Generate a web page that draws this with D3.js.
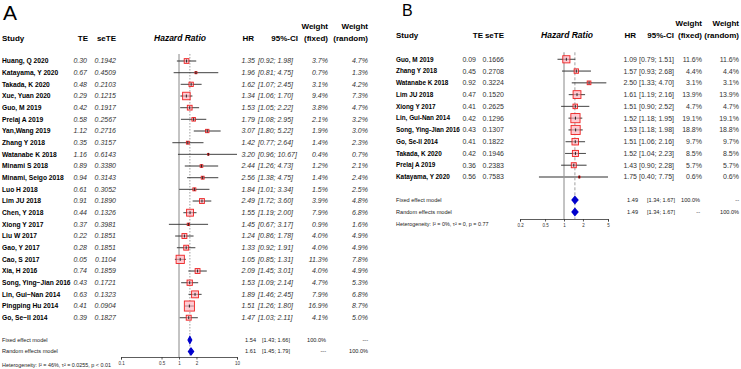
<!DOCTYPE html>
<meta charset="utf-8">
<style>
  body { margin: 0; background: #fff; }
  svg { font-family: "Liberation Sans", Arial, sans-serif; display: block; }
  .name { font-weight: bold; fill: #000; }
  .head { font-weight: bold; fill: #000; font-size: 8px; }
  .pool { fill: #222; font-size: 5.6px; }
</style>
<body></body>
<script src="https://cdn.jsdelivr.net/npm/d3@7"></script>
<script>
  // ---- panel A data
  const studiesA = ["Huang, Q 2020", "Katayama, Y 2020", "Takada, K 2020", "Xue, Yuan 2020", "Guo, M 2019",
    "Prelaj A 2019", "Yan,Wang 2019", "Zhang Y 2018", "Watanabe K 2018", "Minami S 2018", "Minami, Seigo 2018",
    "Luo H 2018", "Lim JU 2018", "Chen, Y 2018", "Xiong Y 2017", "Liu W 2017", "Gao, Y 2017", "Cao, S 2017",
    "Xia, H 2016", "Song, Ying\u2212Jian 2016", "Lin, Gui\u2212Nan 2014", "Pingping Hu 2014", "Go, Se\u2212Il 2014"];
  const teA = [0.30, 0.67, 0.48, 0.29, 0.42, 0.58, 1.12, 0.35, 1.16, 0.89, 0.94, 0.61, 0.91, 0.44, 0.37, 0.22, 0.28, 0.05, 0.74, 0.43, 0.63, 0.41, 0.39];
  const seA = [0.1942, 0.4509, 0.2103, 0.1215, 0.1917, 0.2567, 0.2716, 0.3157, 0.6143, 0.3380, 0.3143, 0.3052, 0.1890, 0.1326, 0.3981, 0.1851, 0.1851, 0.1104, 0.1859, 0.1721, 0.1323, 0.0904, 0.1827];
  const hrA = [1.35, 1.96, 1.62, 1.34, 1.53, 1.79, 3.07, 1.42, 3.20, 2.44, 2.56, 1.84, 2.49, 1.55, 1.45, 1.24, 1.33, 1.05, 2.09, 1.53, 1.89, 1.51, 1.47];
  const loA = [0.92, 0.81, 1.07, 1.06, 1.05, 1.08, 1.80, 0.77, 0.96, 1.26, 1.38, 1.01, 1.72, 1.19, 0.67, 0.86, 0.92, 0.85, 1.45, 1.09, 1.46, 1.26, 1.03];
  const hiA = [1.98, 4.75, 2.45, 1.70, 2.22, 2.95, 5.22, 2.64, 10.67, 4.73, 4.75, 3.34, 3.60, 2.00, 3.17, 1.78, 1.91, 1.31, 3.01, 2.14, 2.45, 1.80, 2.11];
  const wFixedA = [3.7, 0.7, 3.1, 9.4, 3.8, 2.1, 1.9, 1.4, 0.4, 1.2, 1.4, 1.5, 3.9, 7.9, 0.9, 4.0, 4.0, 11.3, 4.0, 4.7, 7.9, 16.9, 4.1];
  const wRandomA = [4.7, 1.3, 4.2, 7.3, 4.7, 3.2, 3.0, 2.3, 0.7, 2.1, 2.4, 2.5, 4.8, 6.8, 1.6, 4.9, 4.9, 7.8, 4.9, 5.3, 6.8, 8.7, 5.0];
  const fixedA = [1.54, 1.43, 1.66];
  const randomA = [1.61, 1.45, 1.79];
  const ticksA = [0.1, 0.5, 1, 2, 10];
  const hetA = "Heterogeneity: I\u00b2 = 46%, \u03c4\u00b2 = 0.0255, p < 0.01";

  // ---- panel B data
  const studiesB = ["Guo, M 2019", "Zhang Y 2018", "Watanabe K 2018", "Lim JU 2018", "Xiong Y 2017",
    "Lin, Gui-Nan 2014", "Song, Ying-Jian 2016", "Go, Se-Il 2014", "Takada, K 2020", "Prelaj A 2019", "Katayama, Y 2020"];
  const teB = [0.09, 0.45, 0.92, 0.47, 0.41, 0.42, 0.43, 0.41, 0.42, 0.36, 0.56];
  const seB = [0.1666, 0.2708, 0.3224, 0.1520, 0.2625, 0.1296, 0.1307, 0.1822, 0.1946, 0.2383, 0.7583];
  const hrB = [1.09, 1.57, 2.50, 1.61, 1.51, 1.52, 1.53, 1.51, 1.52, 1.43, 1.75];
  const loB = [0.79, 0.93, 1.33, 1.19, 0.90, 1.18, 1.18, 1.06, 1.04, 0.90, 0.40];
  const hiB = [1.51, 2.68, 4.70, 2.16, 2.52, 1.95, 1.98, 2.16, 2.23, 2.28, 7.75];
  const wFixedB = [11.6, 4.4, 3.1, 13.9, 4.7, 19.1, 18.8, 9.7, 8.5, 5.7, 0.6];
  const wRandomB = [11.6, 4.4, 3.1, 13.9, 4.7, 19.1, 18.8, 9.7, 8.5, 5.7, 0.6];
  const fixedB = [1.49, 1.34, 1.67];
  const randomB = [1.49, 1.34, 1.67];
  const ticksB = [0.2, 0.5, 1, 2, 5];
  const hetB = "Heterogeneity: I\u00b2 = 0%, \u03c4\u00b2 = 0, p = 0.77";

  const W = 741, H = 369;
  const svg = d3.select('body').append('svg').attr('width', W).attr('height', H);
  svg.append('rect').attr('width', W).attr('height', H).attr('fill', '#fff');

  const f2 = d3.format('.2f'), f4 = d3.format('.4f'), f1 = d3.format('.1f');

  function txt(g, x, y, s, anchor, cls, size, italic) {
    return g.append('text')
      .attr('x', x).attr('y', y).attr('dy', '0.35em')
      .attr('text-anchor', anchor || 'start')
      .attr('class', cls || null)
      .style('font-size', size ? size + 'px' : null)
      .style('font-style', italic ? 'italic' : null)
      .text(s);
  }

  function forest(p) {
    const g = svg.append('g');
    const n = p.studies.length;
    const x = d3.scaleLog().domain(p.domain).range(p.xr);
    const y = d3.scaleLinear().domain([0, n - 1]).range(p.yr);
    const c = p.col;

    // panel letter + headers
    txt(g, p.letter[1], p.letter[2], p.letter[0], 'start', null, p.letter[3]);
    txt(g, c.study, p.headY, 'Study', 'start', 'head');
    txt(g, c.teH, p.headY, 'TE', 'end', 'head');
    txt(g, c.se, p.headY, 'seTE', 'end', 'head');
    txt(g, c.hrTitle, p.headY, 'Hazard Ratio', 'middle', 'head').style('font-style', 'italic').style('font-size', '8.5px');
    txt(g, c.hrH, p.headY, 'HR', 'end', 'head');
    txt(g, c.ciH, p.headY, '95%-CI', 'end', 'head');
    txt(g, c.wf, p.headY - 12, 'Weight', 'end', 'head');
    txt(g, c.wf, p.headY, '(fixed)', 'end', 'head');
    txt(g, c.wr, p.headY - 12, 'Weight', 'end', 'head');
    txt(g, c.wr, p.headY, '(random)', 'end', 'head');

    // reference lines
    const top = p.yr[0] - 7;
    g.append('line').attr('x1', x(1)).attr('x2', x(1)).attr('y1', top).attr('y2', p.axisY)
      .attr('stroke', '#888').attr('stroke-width', 1);
    g.append('line').attr('x1', x(p.fixed[0])).attr('x2', x(p.fixed[0])).attr('y1', top).attr('y2', p.axisY)
      .attr('stroke', '#888').attr('stroke-width', 0.8).attr('stroke-dasharray', p.dash);

    // study rows
    const rows = g.selectAll('g.row').data(d3.range(n)).join('g').attr('class', 'row');
    rows.append('line')
      .attr('x1', i => x(Math.max(p.lo[i], p.domain[0])))
      .attr('x2', i => x(Math.min(p.hi[i], p.domain[1])))
      .attr('y1', i => y(i)).attr('y2', i => y(i))
      .attr('stroke', i => p.w[i] < 1 && p.grayThin ? '#aaa' : '#333')
      .attr('stroke-width', i => p.w[i] < 1 && p.grayThin ? 1.8 : 0.8);
    rows.append('rect')
      .attr('x', i => x(p.hr[i]) - p.k * Math.sqrt(p.w[i]) / 2)
      .attr('y', i => y(i) - p.k * Math.sqrt(p.w[i]) / 2)
      .attr('width', i => p.k * Math.sqrt(p.w[i]))
      .attr('height', i => p.k * Math.sqrt(p.w[i]))
      .attr('fill', '#ffc2cb').attr('fill-opacity', 0.85)
      .attr('stroke', '#ee2222').attr('stroke-width', 0.9);
    rows.append('line')
      .attr('x1', i => x(Math.max(p.lo[i], p.domain[0]))).attr('x2', i => x(Math.min(p.hi[i], p.domain[1])))
      .attr('y1', i => y(i)).attr('y2', i => y(i))
      .attr('stroke', '#333').attr('stroke-width', 0.5).attr('stroke-opacity', 0.6);
    rows.append('line')
      .attr('x1', i => x(p.hr[i])).attr('x2', i => x(p.hr[i]))
      .attr('y1', i => y(i) - 1.5).attr('y2', i => y(i) + 1.5)
      .attr('stroke', '#000').attr('stroke-width', 0.8);

    rows.each(function (i) {
      const r = d3.select(this), yy = y(i), it = p.italic;
      txt(r, c.study, yy, p.studies[i], 'start', 'name', p.nameSize);
      txt(r, c.te, yy, f2(p.te[i]), 'end', null, 7, it).attr('fill', '#333');
      txt(r, c.se, yy, f4(p.se[i]), 'end', null, 7, it).attr('fill', '#333');
      txt(r, c.hr, yy, f2(p.hr[i]), 'end', null, 7, it).attr('fill', '#333');
      const ci = '[' + f2(p.lo[i]) + '; ' + f2(p.hi[i]) + ']';
      txt(r, p.ciAlign === 'start' ? c.ciL : c.ci, yy, ci, p.ciAlign, null, 7, it).attr('fill', '#333');
      txt(r, c.wf, yy, f1(p.w[i]) + '%', 'end', null, 7, it).attr('fill', '#333');
      txt(r, c.wr, yy, f1(p.wr[i]) + '%', 'end', null, 7, it).attr('fill', '#333');
    });

    // pooled rows
    const pooled = [['Fixed effect model', p.fixed, p.poolY[0], '100.0%', p.dashTxt],
                    ['Random effects model', p.random, p.poolY[1], p.dashTxt, '100.0%']];
    pooled.forEach(([label, v, yy, wf, wr]) => {
      txt(g, c.study, yy, label, 'start', 'pool');
      txt(g, c.hr + 1, yy, f2(v[0]), 'end', 'pool');
      txt(g, c.ci + 1, yy, '[' + f2(v[1]) + '; ' + f2(v[2]) + ']', 'end', 'pool');
      txt(g, c.wf - 2, yy, wf, 'end', 'pool');
      txt(g, c.wr, yy, wr, 'end', 'pool');
      g.append('path')
        .attr('d', `M${x(v[1])},${yy} L${x(v[0])},${yy - 3.5} L${x(v[2])},${yy} L${x(v[0])},${yy + 3.5} Z`)
        .attr('fill', '#0000cc').attr('stroke', '#0000cc').attr('stroke-width', 1.2);
    });
    txt(g, c.study, p.hetY, p.het, 'start', 'pool').style('font-size', '5.4px');

    // axis
    const ax = g.append('g').attr('transform', `translate(0,${p.axisY})`)
      .call(d3.axisBottom(x).tickValues(p.ticks).tickFormat(d => d).tickSize(2.5));
    ax.select('.domain').attr('stroke', '#333').attr('stroke-width', 0.8);
    ax.selectAll('.tick line').attr('stroke', '#333').attr('stroke-width', 0.8);
    ax.selectAll('.tick text').attr('y', 5).style('font-size', '4.5px').attr('fill', '#333')
      .style('font-family', '"Liberation Sans", Arial, sans-serif');
  }

  forest({
    letter: ['A', 3, 13, 21],
    studies: studiesA, te: teA, se: seA, hr: hrA, lo: loA, hi: hiA, w: wFixedA, wr: wRandomA,
    fixed: fixedA, random: randomA, ticks: ticksA, het: hetA,
    domain: [0.1, 10], xr: [121, 237], yr: [61, 317.7],
    headY: 38, poolY: [340, 351.5], hetY: 365, axisY: 357,
    col: { study: 2, te: 87, teH: 88, se: 116, hrTitle: 180, hr: 255, hrH: 254, ci: 289, ciL: 258, ciH: 298, wf: 328, wr: 368 },
    ciAlign: 'start', italic: true, k: 2.45, dash: '1.5,1.5', dashTxt: '---', grayThin: false, nameSize: 6.7
  });

  forest({
    letter: ['B', 402, 10, 16],
    studies: studiesB, te: teB, se: seB, hr: hrB, lo: loB, hi: hiB, w: wFixedB, wr: wRandomB,
    fixed: fixedB, random: randomB, ticks: ticksB, het: hetB,
    domain: [0.2, 5], xr: [520, 608], yr: [59.3, 177],
    headY: 35, poolY: [200, 212], hetY: 224, axisY: 219,
    col: { study: 396, te: 476, teH: 483, se: 504, hrTitle: 567, hr: 637, hrH: 636, ci: 674, ciL: 640, ciH: 674, wf: 702, wr: 739 },
    ciAlign: 'end', italic: false, k: 2.1, dash: '3,2', dashTxt: '--', grayThin: true, nameSize: 6.4
  });
</script>
